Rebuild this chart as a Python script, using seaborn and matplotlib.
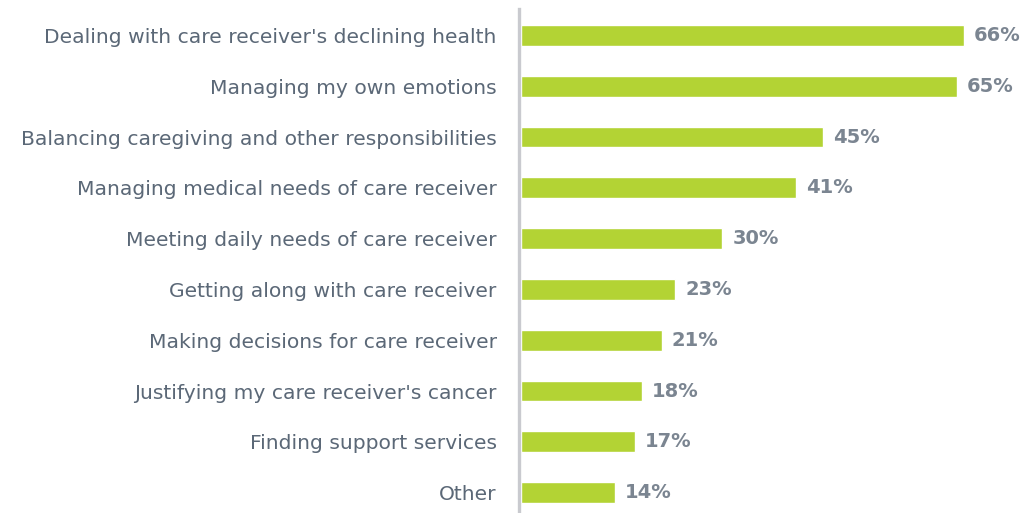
import pandas as pd
import seaborn as sns
import matplotlib.pyplot as plt

# Data
categories = [
    "Dealing with care receiver's declining health",
    "Managing my own emotions",
    "Balancing caregiving and other responsibilities",
    "Managing medical needs of care receiver",
    "Meeting daily needs of care receiver",
    "Getting along with care receiver",
    "Making decisions for care receiver",
    "Justifying my care receiver's cancer",
    "Finding support services",
    "Other",
]
percents = [66, 65, 45, 41, 30, 23, 21, 18, 17, 14]

df = pd.DataFrame({"challenge": categories, "pct": percents})

sns.set_style("white")
plt.rcParams["font.family"] = ["DejaVu Sans"]

fig = plt.figure(figsize=(10.31, 5.13), dpi=100)
ax = fig.add_axes([521 / 1031, 0, 1 - 521 / 1031, 504 / 513])

sns.barplot(data=df, x="pct", y="challenge", orient="h", color="#b3d334",
            saturation=1, width=0.41, ax=ax)

# Value labels
for i, v in enumerate(percents):
    ax.text(v + 1.5, i, f"{v}%", va="center", ha="left", fontsize=14,
            fontweight="bold", color="#7b8591")

ax.set_xlim(0, 76)
ax.set_ylim(9.4, -0.52)
ax.set_xlabel("")
ax.set_ylabel("")
ax.set_xticks([])
for s in ["top", "right", "bottom"]:
    ax.spines[s].set_visible(False)
ax.spines["left"].set_color("#c9cacf")
ax.spines["left"].set_linewidth(2.4)
ax.spines["left"].set_position(("outward", 1.5))
ax.tick_params(axis="y", length=0, pad=16, labelsize=14.6, labelcolor="#5b6877")

fig.savefig("out.png", dpi=100)
